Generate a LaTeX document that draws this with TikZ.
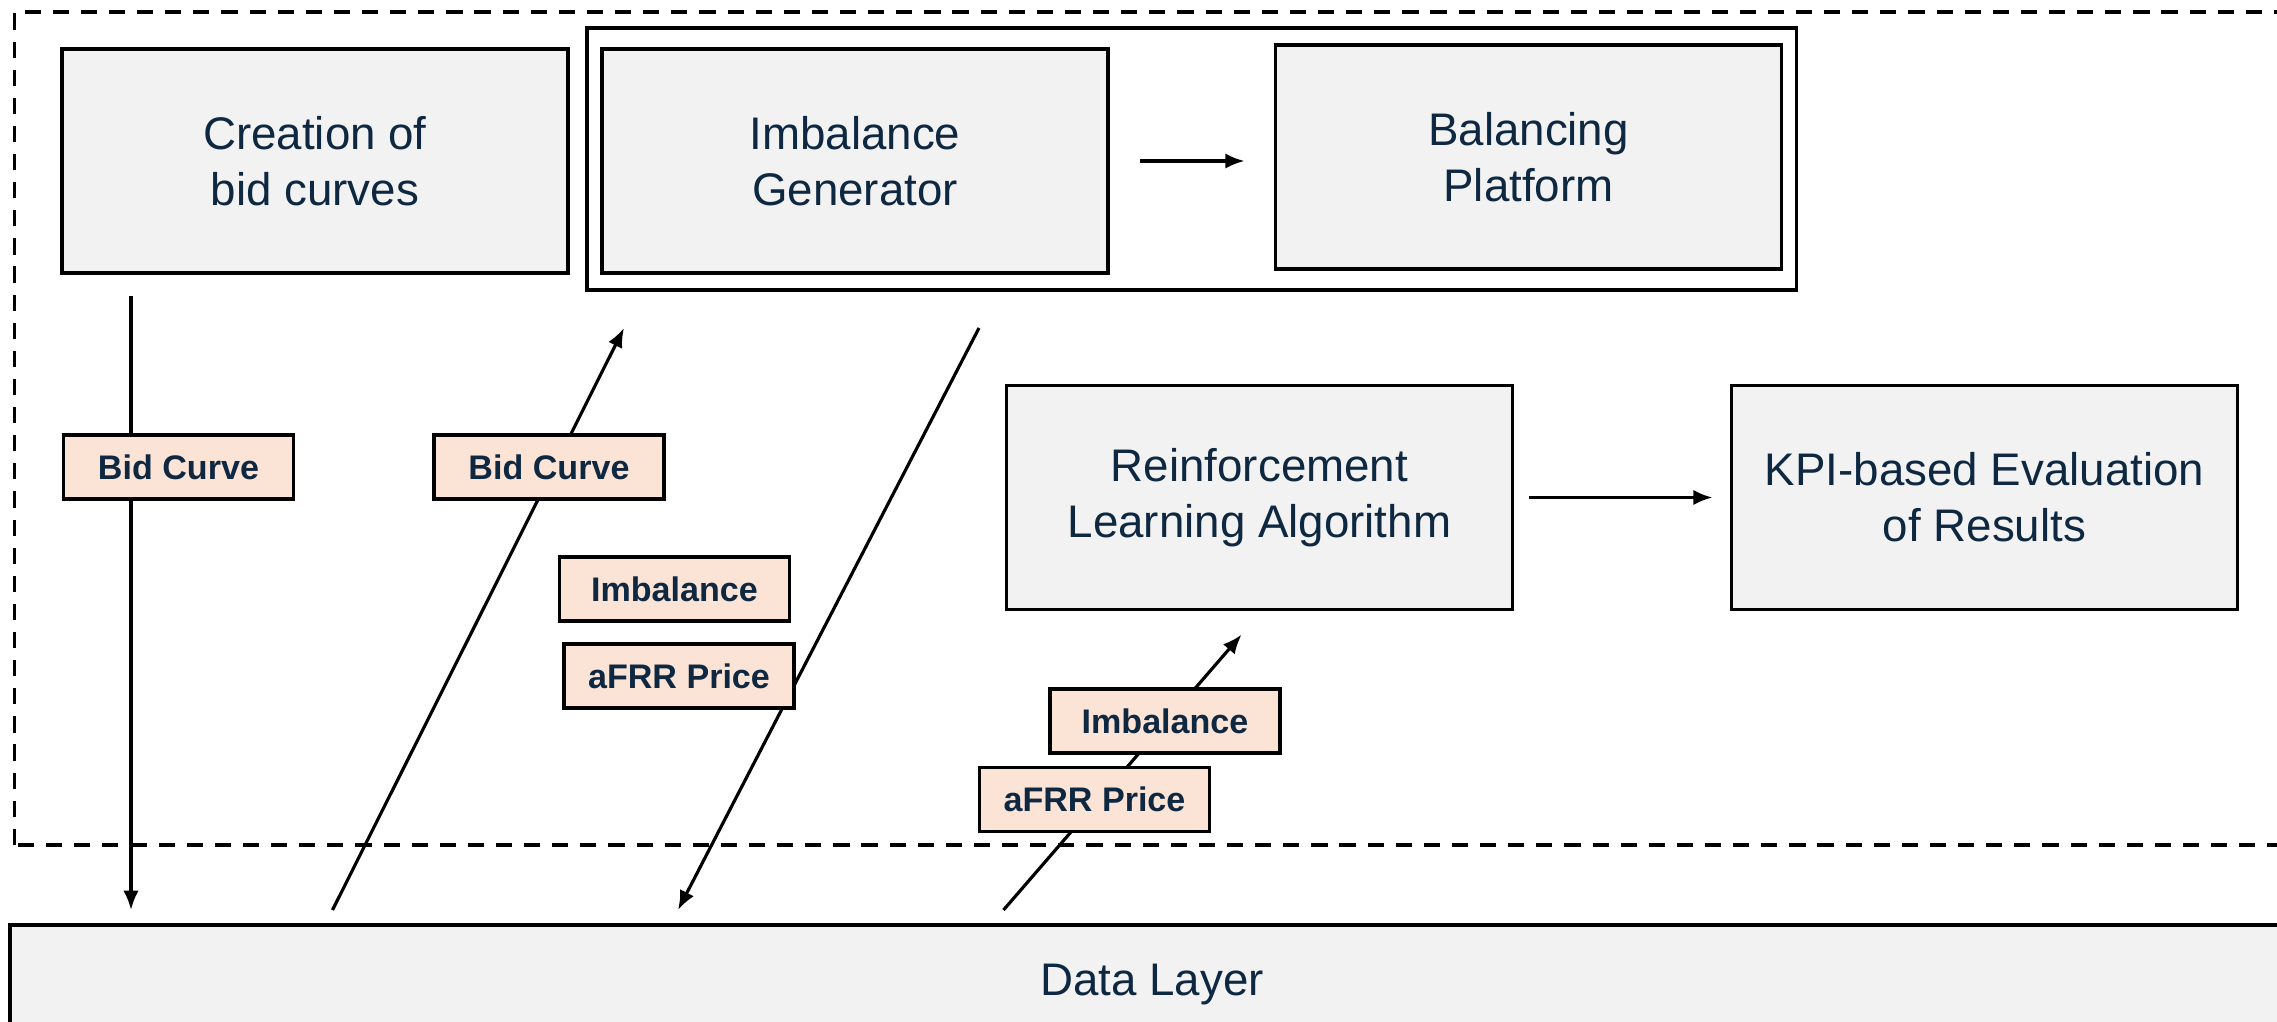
\documentclass[tikz,border=0pt]{standalone}
\usepackage{fontspec}
\setmainfont{Liberation Sans}
\usepackage{tikz}
\usetikzlibrary{arrows.meta,fit}

\definecolor{txt}{HTML}{0E2841}
\definecolor{boxfill}{HTML}{F2F2F2}
\definecolor{tagfill}{HTML}{FBE3D6}

\tikzset{
  box/.style={draw, line width=1.1pt, fill=boxfill, text=txt, align=center,
    minimum width=5.06cm, minimum height=2.24cm, inner sep=0pt,
    font=\fontsize{13}{16}\selectfont},
  tag/.style={draw, line width=1.1pt, fill=tagfill, text=txt,
    minimum width=2.30cm, minimum height=0.64cm, inner sep=0pt,
    font=\fontsize{9.7}{11}\selectfont\bfseries},
  arr/.style={-{Latex[length=5.5pt,width=4.4pt]}, line width=0.9pt}
}

\begin{document}
\begin{tikzpicture}
    \clip (0,0) rectangle (22.77,-10.22);

    % processing layer
    \draw[line width=1.1pt, dash pattern=on 4.6pt off 3.4pt] (0.145,-8.45) rectangle (23.4,-0.116);

    \node[box] (bids) at (3.15,-1.61) {Creation of\\bid curves};
    \node[box] (gen) at (8.55,-1.61) {Imbalance\\Generator};
    \node[box] (platform) at (15.285,-1.57) {Balancing\\Platform};
    \node[draw, line width=1.1pt, inner xsep=0.13cm, inner ysep=0.15cm, fit=(gen) (platform)] (market) {};
    \node[box] (rl) at (12.595,-4.975) {Reinforcement\\Learning Algorithm};
    \node[box] (kpi) at (19.845,-4.975) {KPI-based Evaluation\\of Results};

    \node[box, minimum width=22.84cm, minimum height=1.2cm] (data) at (11.52,-9.85) {Data Layer};

    \draw[arr, shorten <=0.3cm, shorten >=0.29cm] (gen.east) -- (gen.east -| platform.west);
    \draw[arr, shorten <=0.15cm, shorten >=0.17cm] (rl.east) -- (kpi.west);

    % free ends of the data flows
    \coordinate (bidsout) at (1.31,-2.96);
    \coordinate (bidsin) at (1.31,-9.10);
    \coordinate (curveout) at (3.325,-9.10);
    \coordinate (curvein) at (6.24,-3.28);
    \coordinate (resultout) at (9.79,-3.28);
    \coordinate (resultin) at (6.78,-9.10);
    \coordinate (trainout) at (10.035,-9.10);
    \coordinate (trainin) at (12.416,-6.346);

    \draw[arr] (bidsout) -- (bidsin);
    \draw[arr] (curveout) -- (curvein);
    \draw[arr] (resultout) -- (resultin);
    \draw[arr] (trainout) -- (trainin);

    \node[tag] (bidtag) at (1.785,-4.67) {Bid Curve};
    \node[tag] (curvetag) at (5.49,-4.67) {Bid Curve};
    \node[tag] (imbtag) at (6.745,-5.89) {Imbalance};
    \node[tag] (pricetag) at (6.79,-6.76) {aFRR Price};
    \node[tag] (imbtagrl) at (11.65,-7.21) {Imbalance};
    \node[tag] (pricetagrl) at (10.945,-7.995) {aFRR Price};
  \end{tikzpicture}
\end{document}
